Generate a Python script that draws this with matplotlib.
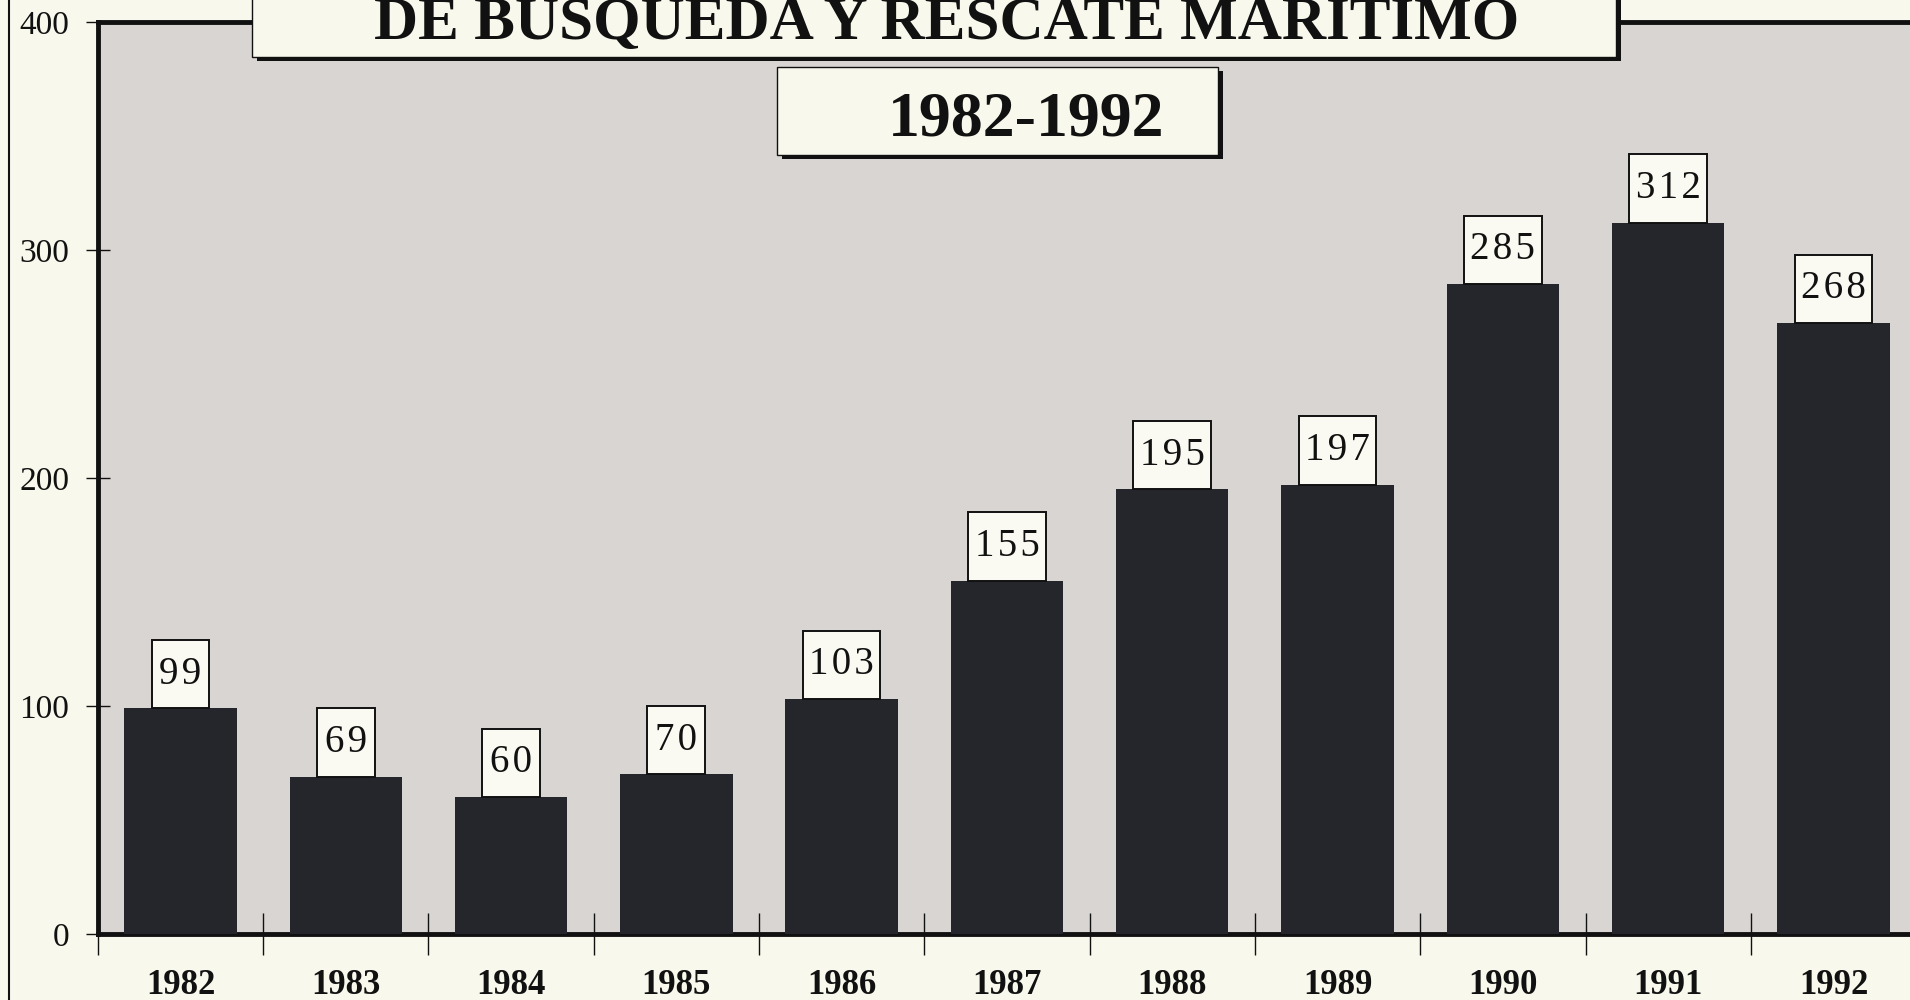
"""
plot.py

Bar chart of maritime search-and-rescue operations per year, 1982-1992.
Scanned-report look: grey plot area, black bars, boxed value labels
and a boxed title that runs off the top of the page.
"""

import matplotlib
matplotlib.use("Agg")
import matplotlib.pyplot as plt
from matplotlib.patches import Rectangle

OUT_PATH = "out.png"

# data
YEARS = ["1982", "1983", "1984", "1985", "1986", "1987",
         "1988", "1989", "1990", "1991", "1992"]
OPERATIONS = [99, 69, 60, 70, 103, 155, 195, 197, 285, 312, 268]
Y_TICKS = [0, 100, 200, 300, 400]

TITLE = "DE BUSQUEDA Y RESCATE MARITIMO"
SUBTITLE = "1982-1992"

PAGE = "#f8f8ec"
PLOT_BG = "#d9d5d3"
BAR = "#24262b"
LABEL_BOX = "#fafaf2"
INK = "#111111"

SERIF = ["Liberation Serif", "DejaVu Serif"]


def boxed_title(fig, x0, y0, w, h, shadow=0.004):
    # dark drop shadow right/below, then the cream box on top
    fig.patches.append(Rectangle((x0 + shadow * 0.6, y0 - shadow), w, h,
                                 transform=fig.transFigure, facecolor=INK,
                                 edgecolor="none", zorder=5))
    fig.patches.append(Rectangle((x0, y0), w, h, transform=fig.transFigure,
                                 facecolor=PAGE, edgecolor=INK, lw=1.0, zorder=6))


def main():
    fig = plt.figure(figsize=(19.1, 10), dpi=100, facecolor=PAGE)

    # axes runs past the right edge of the page, like the cropped scan
    ax = fig.add_axes([0.0512, 0.066, 0.952, 0.912])
    ax.set_facecolor(PLOT_BG)

    x = list(range(len(YEARS)))
    ax.bar(x, OPERATIONS, width=0.68, color=BAR, zorder=3)

    # value labels sit in small white boxes on top of each bar
    box_h = 30
    widths = [0.11 + 0.12 * len(str(v)) for v in OPERATIONS]
    ax.bar(x, [box_h] * len(x), bottom=OPERATIONS, width=widths,
           color=LABEL_BOX, edgecolor=INK, linewidth=1.4, zorder=4)
    for xi, v in zip(x, OPERATIONS):
        ax.text(xi, v + box_h / 2, "\u200a".join(str(v)),
                ha="center", va="center", fontsize=28, family=SERIF,
                color=INK, zorder=5)

    ax.set_xlim(-0.5, 10.5)
    ax.set_ylim(0, 400)

    ax.set_yticks(Y_TICKS)
    ax.set_yticklabels([str(t) for t in Y_TICKS], fontsize=24, family=SERIF)
    ax.tick_params(axis="y", direction="inout", length=17, width=1.0,
                   pad=12, colors=INK)

    ax.set_xticks(x)
    ax.set_xticklabels(YEARS, fontsize=25, fontweight="bold", family=SERIF)
    ax.tick_params(axis="x", which="major", length=0, pad=25, colors=INK)
    ax.set_xticks([i - 0.5 for i in range(len(YEARS) + 1)], minor=True)
    ax.tick_params(axis="x", which="minor", direction="inout", length=30,
                   width=1.0, color=INK)

    for side in ("left", "top", "bottom"):
        ax.spines[side].set_color(INK)
        ax.spines[side].set_linewidth(3.5)
    ax.spines["right"].set_visible(False)

    # thin page margin rule on the left
    fig.add_artist(plt.Line2D([0.0047, 0.0047], [0, 1], transform=fig.transFigure,
                              color=INK, lw=1.5))

    # title boxes
    boxed_title(fig, 252 / 1910, 0.943, (1616 - 252) / 1910, 0.08)
    fig.text(947 / 1910, 1 - 39 / 1000, TITLE, ha="center", va="baseline",
             fontsize=44, fontweight="bold", family=SERIF, color=INK, zorder=7)

    boxed_title(fig, 777 / 1910, 0.845, (1218 - 777) / 1910, 0.088)
    fig.text(1026 / 1910, 1 - 136 / 1000, SUBTITLE, ha="center", va="baseline",
             fontsize=46, fontweight="bold", family=SERIF, color=INK, zorder=7)

    fig.savefig(OUT_PATH, dpi=100, facecolor=PAGE)
    plt.close(fig)


if __name__ == "__main__":
    main()
